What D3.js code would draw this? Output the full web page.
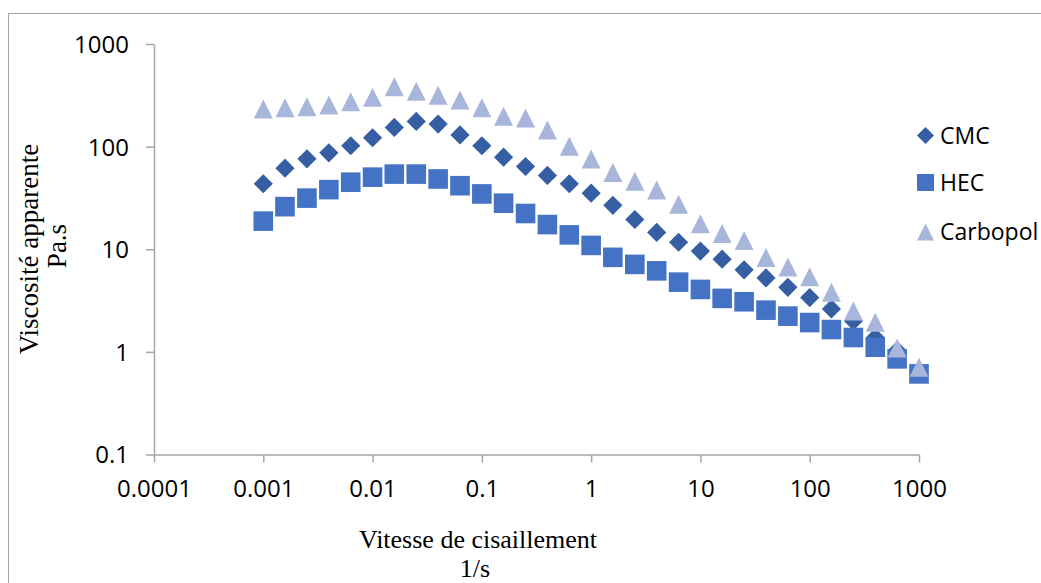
<!DOCTYPE html>
<html>
<head>
<meta charset="utf-8">
<script src="https://cdn.jsdelivr.net/npm/d3@7"></script>
<style>
  html, body { margin: 0; padding: 0; background: #fff; }
  svg { display: block; }
</style>
</head>
<body>
<svg id="chart" width="1041" height="583"></svg>
<script>
// Shear rate (1/s), five points per decade
const shearRate = [0.001, 0.00158, 0.00251, 0.00398, 0.00631, 0.01, 0.0158, 0.0251, 0.0398, 0.0631,
  0.1, 0.158, 0.251, 0.398, 0.631, 1, 1.58, 2.51, 3.98, 6.31,
  10, 15.8, 25.1, 39.8, 63.1, 100, 158, 251, 398, 631, 1000];

// Apparent viscosity (Pa.s)
const cmc = [43.5, 61.6, 76, 87, 102, 122, 154, 176, 166, 130,
  102, 79, 64, 52.4, 43.5, 35.2, 26.8, 19.5, 14.6, 11.7,
  9.6, 8.0, 6.3, 5.25, 4.26, 3.38, 2.62, 2.0, 1.38, 1.03, 0.66];
const hec = [18.8, 26, 31.5, 38.1, 45, 50.4, 54, 54, 48.4, 41.6,
  34.6, 28.1, 22.3, 17.4, 13.8, 10.9, 8.34, 7.12, 6.16, 4.78,
  4.06, 3.32, 3.08, 2.55, 2.23, 1.93, 1.65, 1.38, 1.11, 0.855, 0.61];
const carbopol = [233, 239, 245, 254, 273, 303, 384, 347, 317, 284,
  239, 198, 190, 145, 101, 75.6, 56, 46, 37.7, 27.5,
  17.7, 14.2, 12.2, 8.3, 6.7, 5.4, 3.8, 2.5, 1.94, 1.09, 0.71];

const seriesNames = ["CMC", "HEC", "Carbopol"];
const xTickValues = [0.0001, 0.001, 0.01, 0.1, 1, 10, 100, 1000];
const xTickLabels = ["0.0001", "0.001", "0.01", "0.1", "1", "10", "100", "1000"];
const yTickValues = [0.1, 1, 10, 100, 1000];
const yTickLabels = ["0.1", "1", "10", "100", "1000"];

const svg = d3.select("#chart");
const axisColor = "#A6A6A6";
const sansFont = "'Open Sans', sans-serif";
const serifFont = "'Liberation Serif', 'Times New Roman', serif";

// Outer chart frame (top and left edges fall inside the view)
svg.append("rect")
  .attr("x", 8.5).attr("y", 13.5)
  .attr("width", 1100).attr("height", 700)
  .attr("fill", "none").attr("stroke", axisColor).attr("stroke-width", 1);

const x = d3.scaleLog().domain([0.0001, 1000]).range([154, 919]);
const y = d3.scaleLog().domain([0.1, 1000]).range([454.5, 44]);

// Axes
const xAxis = d3.axisBottom(x)
  .tickValues(xTickValues)
  .tickFormat((d, i) => xTickLabels[i])
  .tickSizeInner(8).tickSizeOuter(0).tickPadding(10);
const yAxis = d3.axisLeft(y)
  .tickValues(yTickValues)
  .tickFormat((d, i) => yTickLabels[i])
  .tickSizeInner(8).tickSizeOuter(0).tickPadding(17);

const gx = svg.append("g").attr("transform", `translate(0,${y(0.1)})`).call(xAxis);
const gy = svg.append("g").attr("transform", `translate(${x(0.0001)},0)`).call(yAxis);

[gx, gy].forEach(g => {
  g.select(".domain").attr("stroke", axisColor).attr("stroke-width", 1.5);
  g.selectAll(".tick line").attr("stroke", axisColor).attr("stroke-width", 1.5);
  g.selectAll(".tick text")
    .attr("fill", "#000")
    .style("font-family", sansFont)
    .style("font-size", "24px");
});
gx.selectAll(".tick text").attr("dy", "1em");
gy.selectAll(".tick text").attr("dy", "0.35em");

// Markers
const diamond = s => `M0,${-s} L${s},0 L0,${s} L${-s},0 Z`;
const square = s => `M${-s},${-s} H${s} V${s} H${-s} Z`;
const triangle = s => `M0,${-s} L${s},${s} L${-s},${s} Z`;

const series = [
  { name: seriesNames[0], values: cmc, color: "#365FA3", path: diamond(9.6), legendPath: diamond(8.5) },
  { name: seriesNames[1], values: hec, color: "#4472C4", path: square(9.8), legendPath: square(8.5) },
  { name: seriesNames[2], values: carbopol, color: "#A9B6DC", path: triangle(9.5), legendPath: triangle(8.5) }
];

series.forEach(s => {
  svg.append("g")
    .selectAll("path")
    .data(shearRate.map((r, i) => [r, s.values[i]]))
    .join("path")
    .attr("transform", d => `translate(${x(d[0])},${y(d[1])})`)
    .attr("d", s.path)
    .attr("fill", s.color);
});

// Legend
const legendY = [135.5, 182.5, 232];
const legend = svg.append("g");
series.forEach((s, i) => {
  legend.append("path")
    .attr("transform", `translate(925.5,${legendY[i]})`)
    .attr("d", s.legendPath)
    .attr("fill", s.color);
  legend.append("text")
    .attr("x", 940).attr("y", legendY[i])
    .attr("dy", "0.36em")
    .style("font-family", sansFont)
    .style("font-size", "23px")
    .attr("fill", "#000")
    .text(s.name);
});

// Axis titles
const xTitle = svg.append("text")
  .attr("text-anchor", "middle")
  .style("font-family", serifFont)
  .style("font-size", "26px")
  .attr("fill", "#000");
xTitle.append("tspan").attr("x", 478).attr("y", 548).text("Vitesse de cisaillement");
xTitle.append("tspan").attr("x", 475).attr("y", 577).text("1/s");

const yTitle = svg.append("text")
  .attr("text-anchor", "middle")
  .attr("transform", "rotate(-90)")
  .style("font-family", serifFont)
  .style("font-size", "27px")
  .attr("fill", "#000");
yTitle.append("tspan").attr("x", -249).attr("y", 38).text("Viscosité apparente");
yTitle.append("tspan").attr("x", -246).attr("y", 65.5).text("Pa.s");
</script>
</body>
</html>
